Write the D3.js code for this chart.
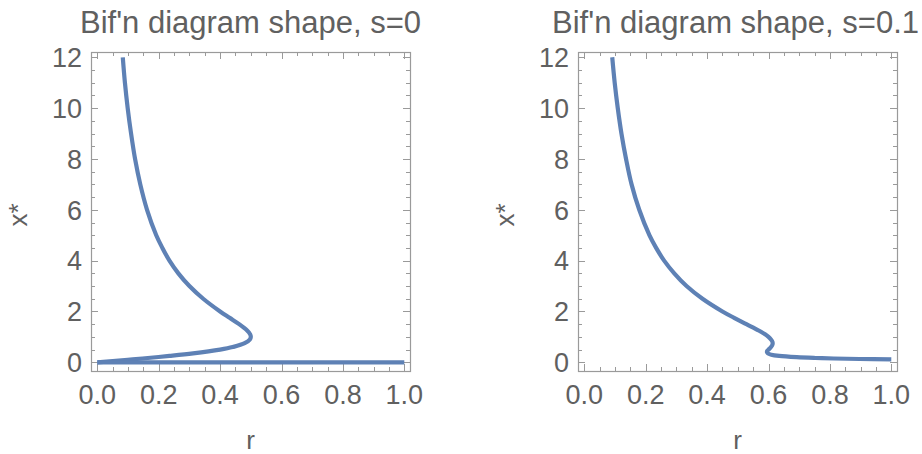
<!DOCTYPE html>
<html>
<head>
<meta charset="utf-8">
<script src="https://cdn.jsdelivr.net/npm/d3@7"></script>
<style>
  body { margin: 0; background: #fff; }
  text { font-family: "Liberation Sans", Arial, sans-serif; fill: #606060; }
</style>
</head>
<body>
<div id="chart"></div>
<script>
var vWidth = 922;
var vHeight = 454;

// panel titles
var titles = ["Bif'n diagram shape, s=0", "Bif'n diagram shape, s=0.1"];

// tick labels
var rTicks = [0, 0.2, 0.4, 0.6, 0.8, 1.0];
var xTicks = [0, 2, 4, 6, 8, 10, 12];

// s=0 : upper/lower branch (x*, r)
var s0X = [12, 11, 10, 9, 8, 7, 6, 5, 4.5, 4, 3.5, 3, 2.5, 2, 1.75, 1.5, 1.25, 1.1, 1.0, 0.9, 0.75, 0.6, 0.5, 0.35, 0.25, 0.15, 0.1, 0.05, 0];
var s0R = [0.083, 0.090, 0.099, 0.110, 0.123, 0.140, 0.162, 0.192, 0.212, 0.235, 0.264, 0.300, 0.345, 0.400, 0.431, 0.462, 0.488, 0.498, 0.500, 0.497, 0.480, 0.441, 0.400, 0.312, 0.235, 0.147, 0.099, 0.050, 0];
// s=0 : trivial branch x*=0
var s0ZeroX = [0, 0];
var s0ZeroR = [0, 1];

// s=0.1 branch
var s1X = [12, 11, 10, 9, 8, 7, 6, 5, 4.5, 4, 3.5, 3, 2.5, 2, 1.75, 1.5, 1.25, 1.1, 1.0, 0.9, 0.8, 0.7, 0.6, 0.5, 0.45, 0.4, 0.35, 0.3, 0.25, 0.2, 0.17, 0.15, 0.13, 0.1125];
var s1R = [0.091, 0.099, 0.109, 0.121, 0.136, 0.154, 0.179, 0.212, 0.234, 0.260, 0.293, 0.333, 0.385, 0.450, 0.488, 0.528, 0.568, 0.589, 0.600, 0.608, 0.613, 0.613, 0.608, 0.600, 0.596, 0.595, 0.598, 0.609, 0.635, 0.692, 0.753, 0.813, 0.897, 1.0];

var panels = [
  { left: 91, title: titles[0], series: [[s0X, s0R], [s0ZeroX, s0ZeroR]] },
  { left: 578, title: titles[1], series: [[s1X, s1R]] }
];

var frameW = 319, frameTop = 52, frameBottom = 371;
var lineColor = "#5e81b5";
var frameColor = "#9a9a9a";

var svg = d3.select("#chart")
  .append("svg")
  .attr("width", vWidth)
  .attr("height", vHeight);

panels.forEach(function (p) {
  var g = svg.append("g");
  var x0 = p.left, x1 = p.left + frameW;

  // scales (Mathematica style padding inside frame)
  var xs = d3.scaleLinear().domain([0, 1]).range([x0 + 6.3, x1 - 5.7]);
  var ys = d3.scaleLinear().domain([0, 12]).range([362.3, 57.3]);

  var majR = rTicks, minR = d3.range(0, 1.0001, 0.05);
  var majX = xTicks, minX = d3.range(0, 12.0001, 0.5);

  // frame ticks
  var tickG = g.append("g").attr("stroke", frameColor).attr("stroke-width", 1);
  minR.forEach(function (v) {
    var isMaj = majR.some(function (m) { return Math.abs(m - v) < 1e-6; });
    var len = isMaj ? 7 : 4;
    var px = Math.round(xs(v)) + 0.5;
    tickG.append("line").attr("x1", px).attr("x2", px).attr("y1", frameBottom).attr("y2", frameBottom - len);
    tickG.append("line").attr("x1", px).attr("x2", px).attr("y1", frameTop).attr("y2", frameTop + len);
  });
  minX.forEach(function (v) {
    var isMaj = majX.indexOf(v) >= 0;
    var len = isMaj ? 7 : 4;
    var py = Math.round(ys(v)) + 0.5;
    tickG.append("line").attr("x1", x0).attr("x2", x0 + len).attr("y1", py).attr("y2", py);
    tickG.append("line").attr("x1", x1).attr("x2", x1 - len).attr("y1", py).attr("y2", py);
  });

  g.append("rect")
    .attr("x", x0 + 0.5).attr("y", frameTop + 0.5)
    .attr("width", frameW).attr("height", frameBottom - frameTop)
    .attr("fill", "none").attr("stroke", frameColor).attr("stroke-width", 1.2);

  // tick labels
  g.selectAll(".rl").data(majR).enter().append("text")
    .attr("x", function (d) { return xs(d); })
    .attr("y", 404)
    .attr("text-anchor", "middle")
    .attr("font-size", 27)
    .text(d3.format(".1f"));
  g.selectAll(".xl").data(majX).enter().append("text")
    .attr("x", x0 - 9)
    .attr("y", function (d) { return ys(d) + 9.7; })
    .attr("text-anchor", "end")
    .attr("font-size", 27)
    .text(function (d) { return d; });

  // axis labels
  g.append("text")
    .attr("x", (x0 + x1) / 2).attr("y", 449)
    .attr("text-anchor", "middle").attr("font-size", 26)
    .text("r");
  g.append("text")
    .attr("transform", "translate(" + (x0 - 64) + ",215) rotate(-90)")
    .attr("text-anchor", "middle").attr("font-size", 26)
    .text("x*");

  // title, kept inside the page on the right
  var t = g.append("text")
    .attr("y", 33)
    .attr("text-anchor", "middle").attr("font-size", 31)
    .text(p.title);
  var tw = t.node().getComputedTextLength();
  t.attr("x", Math.min((x0 + x1) / 2, vWidth - 3 - tw / 2));

  // curves
  var line = d3.line()
    .x(function (d) { return xs(d[1]); })
    .y(function (d) { return ys(d[0]); })
    .curve(d3.curveCatmullRom.alpha(0.5));
  p.series.forEach(function (s) {
    var pts = s[0].map(function (v, i) { return [v, s[1][i]]; });
    g.append("path")
      .datum(pts)
      .attr("d", line)
      .attr("fill", "none")
      .attr("stroke", lineColor)
      .attr("stroke-width", 4.2)
      .attr("stroke-linejoin", "round");
  });
});
</script>
</body>
</html>
